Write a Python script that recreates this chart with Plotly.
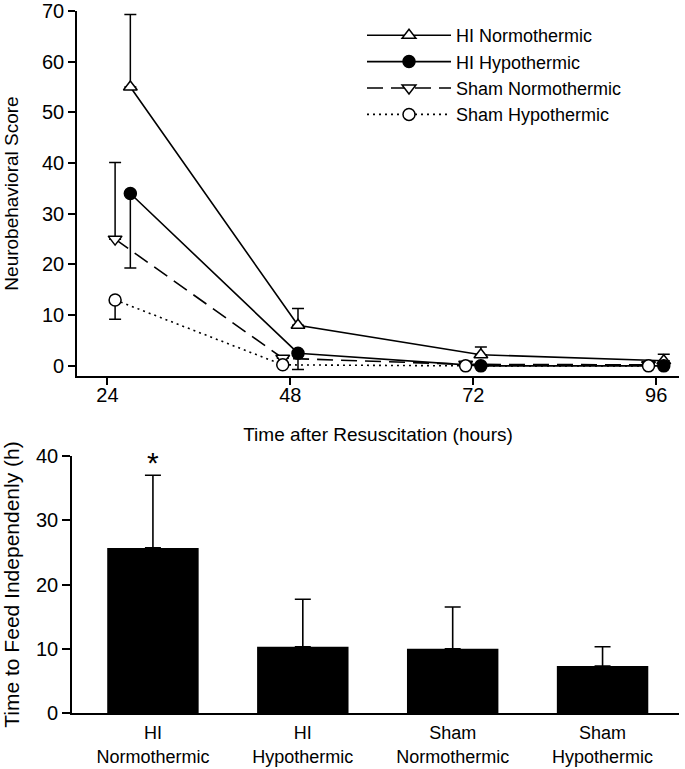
import plotly.graph_objects as go

# ---------------- data: top panel ----------------
hi_hours = [27, 49, 73, 97]      # plotted positions (offset right of tick)
sham_hours = [25, 47, 71, 95]    # plotted positions (offset left of tick)
tick_hours = [24, 48, 72, 96]

hi_normo = [55, 8, 2.2, 1.0]
hi_normo_err = [14.3, 3.3, 1.5, 1.3]
hi_hypo = [34, 2.5, 0, 0]
hi_hypo_err = [14.7, 3.2, 0, 0]
sham_normo = [25, 1.5, 0.3, 0.2]
sham_normo_err = [15.1, 0, 0, 0]
sham_hypo = [13, 0.2, 0, 0]
sham_hypo_err = [3.8, 0, 0, 0]

# ---------------- data: bottom panel ----------------
groups = ["HI<br>Normothermic", "HI<br>Hypothermic", "Sham<br>Normothermic", "Sham<br>Hypothermic"]
feed_time = [25.7, 10.3, 10.0, 7.3]
feed_err = [11.3, 7.4, 6.5, 3.0]

zeros = [0, 0, 0, 0]
W, H = 685, 769
FONT = "Liberation Sans, Arial, sans-serif"

fig = go.Figure()

def add_series(x, y, err, up, name, symbol, fill, dash):
    fig.add_trace(go.Scatter(
        x=x, y=y, name=name, mode="lines+markers",
        line=dict(color="black", width=1.6, dash=dash),
        marker=dict(symbol=symbol, size=12, color=fill, line=dict(color="black", width=1.5)),
        error_y=dict(type="data", symmetric=False,
                     array=err if up else zeros,
                     arrayminus=zeros if up else err,
                     color="black", thickness=1.5, width=6),
        xaxis="x", yaxis="y",
    ))

add_series(hi_hours, hi_normo, hi_normo_err, True, "HI Normothermic", "triangle-up", "white", "solid")
add_series(hi_hours, hi_hypo, hi_hypo_err, False, "HI Hypothermic", "circle", "black", "solid")
add_series(sham_hours, sham_normo, sham_normo_err, True, "Sham Normothermic", "triangle-down", "white", "16px,8px")
add_series(sham_hours, sham_hypo, sham_hypo_err, False, "Sham Hypothermic", "circle", "white", "2px,4px")

fig.add_trace(go.Bar(
    x=groups, y=feed_time, width=0.61, showlegend=False,
    marker=dict(color="black", line=dict(width=0)),
    error_y=dict(type="data", symmetric=False, array=feed_err, arrayminus=zeros,
                 color="black", thickness=1.6, width=8),
    xaxis="x2", yaxis="y2",
))

fig.add_annotation(x=groups[0], y=feed_time[0] + feed_err[0], xref="x2", yref="y2",
                   text="*", showarrow=False, yanchor="bottom", yshift=-6,
                   font=dict(family=FONT, size=30, color="black"))

axis_common = dict(showline=True, linecolor="black", linewidth=1.6, ticks="outside",
                   tickcolor="black", tickwidth=1.5, showgrid=False, zeroline=False,
                   automargin=False)

fig.update_layout(
    width=W, height=H,
    margin=dict(l=0, r=0, t=0, b=0),
    paper_bgcolor="white", plot_bgcolor="white",
    font=dict(family=FONT, size=18, color="black"),
    xaxis=dict(domain=[77 / W, 679 / W], range=[20, 99], tickvals=tick_hours, ticklen=7,
               tickfont=dict(size=20), ticklabelstandoff=-7,
               title=dict(text="Time after Resuscitation (hours)", standoff=23,
                          font=dict(family=FONT, size=19)),
               anchor="y", **axis_common),
    yaxis=dict(domain=[1 - 376 / H, 1 - 11 / H], range=[-2, 70], dtick=10, ticklen=7,
               tickfont=dict(size=20),
               title=dict(text="Neurobehavioral Score", standoff=18, font=dict(size=19)),
               anchor="x", **axis_common),
    xaxis2=dict(domain=[72 / W, 679 / W], range=[-0.54, 3.51], showline=True,
                linecolor="black", linewidth=1.6, ticks="", showgrid=False, zeroline=False,
                automargin=False, anchor="y2", ticklabelstandoff=3,
                tickfont=dict(family=FONT, size=18)),
    yaxis2=dict(domain=[1 - 713 / H, 1 - 456 / H], range=[0, 40], dtick=10, ticklen=8,
                tickfont=dict(size=20),
                title=dict(text="Time to Feed Independenly (h)", standoff=12,
                           font=dict(family=FONT, size=21)),
                anchor="x2", **axis_common),
    legend=dict(x=362 / W, y=1 - 17 / H, xanchor="left", yanchor="top",
                bgcolor="rgba(0,0,0,0)", font=dict(family=FONT, size=18),
                tracegroupgap=0, itemwidth=84),
    showlegend=True,
)

fig.write_html("out.html", config={"displayModeBar": False},
               post_script="document.body.style.margin='0';")
